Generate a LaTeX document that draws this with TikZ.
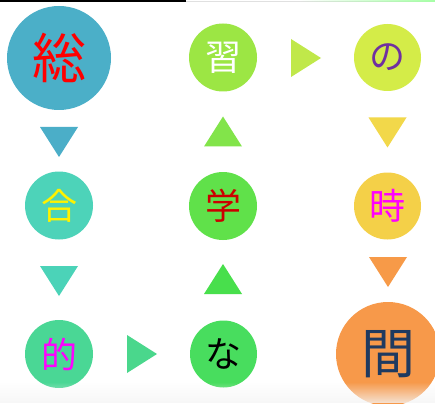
\documentclass[tikz,border=0pt]{standalone}
\usepackage{fontspec}
\newfontfamily\cjk{Noto Sans CJK JP}
\usetikzlibrary{fadings}
\definecolor{cA}{HTML}{4BAFC8}
\definecolor{cB}{HTML}{4DD3B9}
\definecolor{cC}{HTML}{4AD795}
\definecolor{cD}{HTML}{48DD5E}
\definecolor{cE}{HTML}{60E14A}
\definecolor{cF}{HTML}{9CE644}
\definecolor{cG}{HTML}{D4EC48}
\definecolor{cH}{HTML}{F4D048}
\definecolor{cI}{HTML}{F7994A}
\definecolor{tA}{HTML}{4BAEC8}
\definecolor{tB}{HTML}{4BD3B8}
\definecolor{tC}{HTML}{4AD78C}
\definecolor{tD}{HTML}{48DF4C}
\definecolor{tE}{HTML}{82E44A}
\definecolor{tF}{HTML}{C0E84A}
\definecolor{tG}{HTML}{F2D84A}
\definecolor{tH}{HTML}{F79A48}
\definecolor{navy}{HTML}{1F3A60}
\definecolor{purp}{HTML}{7030A0}
\definecolor{mag}{HTML}{FF00FF}
\definecolor{dred}{HTML}{CC0000}
\tikzset{
  x=1pt, y=-1pt,
  ball/.style={circle, inner sep=0pt, font=\cjk\fontsize{36}{36}\selectfont},
  bigball/.style={circle, inner sep=0pt, font=\cjk\fontsize{54}{54}\selectfont},
  tridown/.pic={\fill (-19,-15) -- (19,-15) -- (0,15) -- cycle;},
  triup/.pic={\fill (-19,15) -- (19,15) -- (0,-15) -- cycle;},
  triright/.pic={\fill (-15,-19) -- (-15,19) -- (15,0) -- cycle;}
}
\begin{document}
\begin{tikzpicture}
\useasboundingbox (0,0) rectangle (435,403);
\fill[white] (0,0) rectangle (435,403);
% circles
\node[bigball, fill=cA, text=red, minimum size=104pt] (so) at (59,58) {総};
\node[ball, fill=cF, text=white, minimum size=68pt] (shu) at (223,57.5) {習};
\node[ball, fill=cG, text=purp, minimum size=67pt] (no) at (387.5,57.5) {の};
\node[ball, fill=cB, text=yellow, minimum size=68pt] (go) at (59,205.5) {合};
\node[ball, fill=cE, text=dred, minimum size=68pt] (gaku) at (223,206) {学};
\node[ball, fill=cH, text=mag, minimum size=67pt] (ji) at (387.5,206) {時};
\node[ball, fill=cC, text=mag, minimum size=68pt] (teki) at (59,354) {的};
\node[ball, fill=cD, text=black, minimum size=67pt] (na) at (223.5,354) {な};
\node[bigball, fill=cI, text=navy, minimum size=104pt] (kan) at (388,354) {間};
% triangle arrows
\pic[fill=tA] at (59,142) {tridown};
\pic[fill=tB] at (59,281) {tridown};
\pic[fill=tC] at (142,354) {triright};
\pic[fill=tD] at (223,279) {triup};
\pic[fill=tE] at (223,131.5) {triup};
\pic[fill=tF] at (306,58) {triright};
\pic[fill=tG] at (387.5,132.5) {tridown};
\pic[fill=tH] at (388,272) {tridown};
% top strip
\fill[black] (0,0) rectangle (186,2);
\fill[black!12] (186,1.5) rectangle (435,2.5);
\fill[green!35, path fading=west] (300,0) rectangle (435,2.5);
% bottom fade
\fill[black!4, opacity=0.8, path fading=north] (0,382) rectangle (435,403);
\end{tikzpicture}
\end{document}
